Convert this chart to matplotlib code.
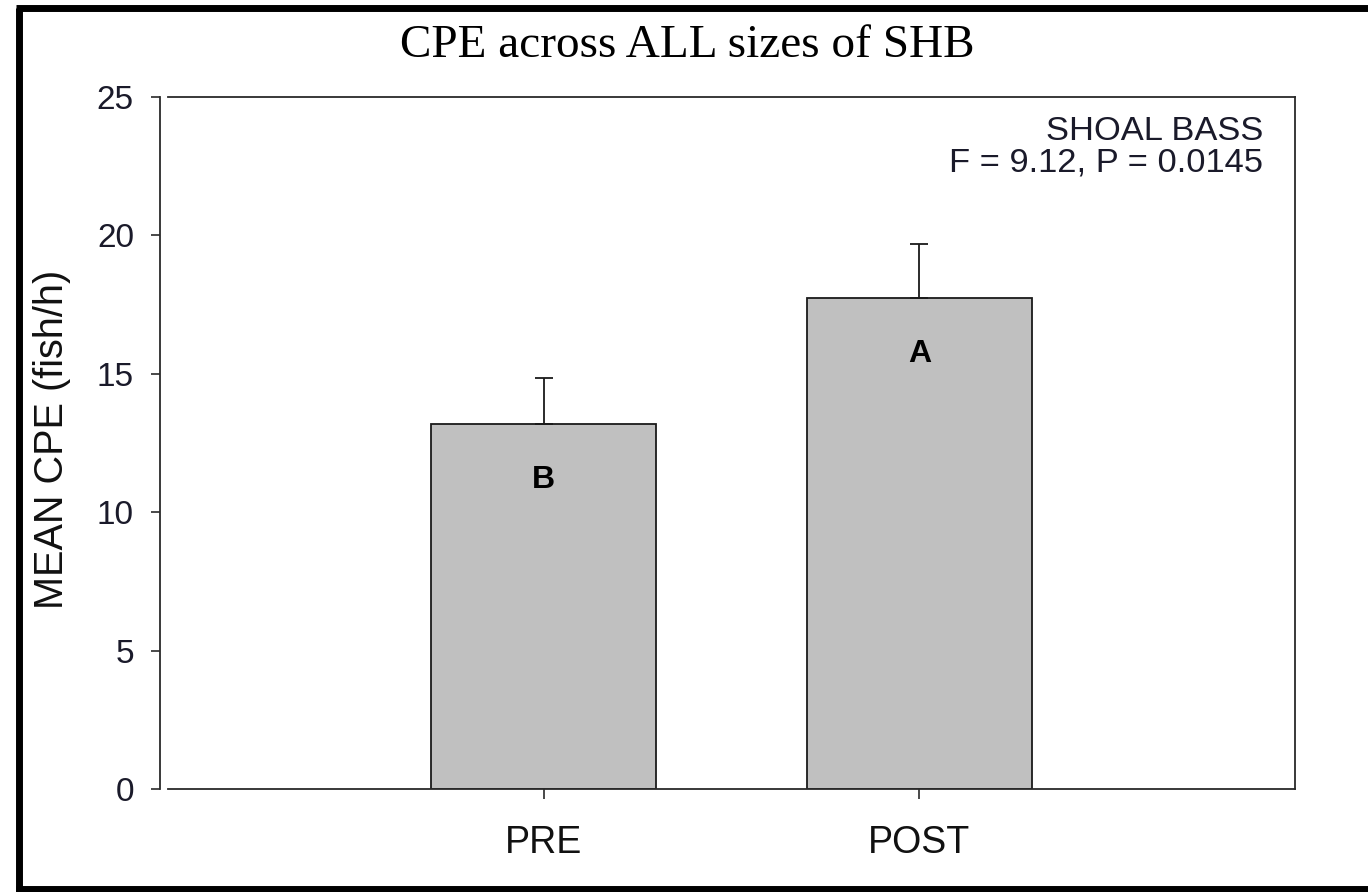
import matplotlib
matplotlib.use("Agg")
import matplotlib.pyplot as plt
from matplotlib.lines import Line2D

categories = ["PRE", "POST"]
means = [13.2, 17.75]
errors = [1.65, 1.95]
letters = ["B", "A"]
yticks = [0, 5, 10, 15, 20, 25]
title = "CPE across ALL sizes of SHB"
ylabel = "MEAN CPE (fish/h)"
annot = ["SHOAL BASS", "F = 9.12, P = 0.0145"]

W, H = 1368, 892
fig = plt.figure(figsize=(W / 100, H / 100), dpi=100)
ax = fig.add_axes([168 / W, 1 - 789 / H, (1295 - 168) / W, (789 - 97) / H])

sans = ["Liberation Sans", "DejaVu Sans"]
pos = [1, 2]
ax.bar(pos, means, width=0.6, color="#c0c0c0", edgecolor="#1a1a1a", linewidth=1.3, zorder=2)
ax.errorbar(pos, means, yerr=[[0, 0], errors], fmt="none", ecolor="#1a1a1a",
            elinewidth=1.3, capsize=6.5, capthick=1.3, zorder=3)
for x, m, l in zip(pos, means, letters):
    ax.text(x, m - 2.05, l, ha="center", va="center", fontsize=23, fontweight="bold",
            family=sans, color="black", zorder=4)

for s in ax.spines.values():
    s.set_linewidth(1.3)
    s.set_color("#2a2a2a")
ax.spines["left"].set_position(("outward", 6))

ax.set_xlim(0, 3)
ax.set_ylim(0, 25)
ax.set_xticks(pos)
ax.set_xticklabels(categories)
ax.set_yticks(yticks)
ax.set_yticklabels([str(t) for t in yticks])
ax.tick_params(axis="y", direction="out", length=6.5, width=1.2, pad=12, color="#2a2a2a",
               labelsize=24, labelcolor="#1a1a2a")
ax.tick_params(axis="x", direction="out", length=7, width=1.2, pad=19, color="#2a2a2a",
               labelsize=27, labelcolor="#111111")
for lab in ax.get_xticklabels() + ax.get_yticklabels():
    lab.set_family(sans)

fig.text(52 / W, 1 - 439 / H, ylabel, rotation=90, ha="center", va="center",
         fontsize=28.5, family=sans, color="#111111")
fig.text(687 / W, 1 - 46 / H, title, ha="center", va="center", fontsize=34,
         family=["Liberation Serif", "DejaVu Serif"], color="black")
fig.text(1263 / W, 1 - 131 / H, annot[0], ha="right", va="center", fontsize=24.8,
         family=sans, color="#1a1a2a")
fig.text(1263 / W, 1 - 163 / H, annot[1], ha="right", va="center", fontsize=24.8,
         family=sans, color="#1a1a2a")

# outer frame (left, top, bottom)
lw = 5
fig.add_artist(Line2D([19 / W, 19 / W], [0, 1 - 8 / H], color="black", linewidth=lw,
                      transform=fig.transFigure, solid_capstyle="butt"))
fig.add_artist(Line2D([16 / W, 1], [1 - 8 / H, 1 - 8 / H], color="black", linewidth=lw,
                      transform=fig.transFigure, solid_capstyle="butt"))
fig.add_artist(Line2D([16 / W, 1], [3 / H, 3 / H], color="black", linewidth=lw,
                      transform=fig.transFigure, solid_capstyle="butt"))

fig.savefig("out.png", dpi=100)
